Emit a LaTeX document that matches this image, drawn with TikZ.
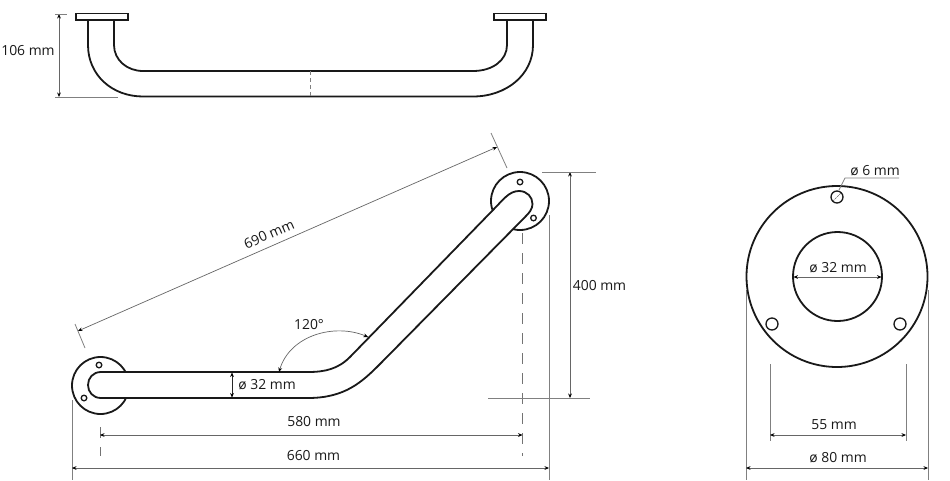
\documentclass[tikz,border=0pt]{standalone}
\usepackage{fontspec}
\setmainfont{Open Sans}
\usetikzlibrary{arrows.meta}
\tikzset{
  outline/.style={line width=1.8pt,draw=black!90,line cap=butt},
  partfill/.style={outline,fill=white},
  hole/.style={line width=1.3pt,draw=black!90,fill=white},
  dim/.style={line width=0.7pt,draw=black!60,{Stealth[length=4.5pt,width=3.8pt,black]}-{Stealth[length=4.5pt,width=3.8pt,black]}},
  ext/.style={line width=0.8pt,draw=black!50},
  axisline/.style={line width=0.8pt,draw=black!55,dash pattern=on 11pt off 9pt},
  lab/.style={font=\fontsize{13.9}{16}\selectfont,text=black!90,inner sep=0pt}
}
\begin{document}
\begin{tikzpicture}[x=1pt,y=-1pt]
\useasboundingbox[fill=white] (0,0) rectangle (950,480);
% top view
\draw[partfill] (88,20) -- (88,45) .. controls (88,75) and (112,96.5) .. (143,96.5) -- (473,96.5) .. controls (506,96.5) and (533,75) .. (533,45) -- (533,20) -- (507,20) -- (507,45) .. controls (507,60) and (493,71) .. (473,71) -- (143,71) .. controls (127,71) and (114,60) .. (114,45) -- (114,20);
\draw[partfill,line width=1.4pt] (76,13.5) rectangle (128,20);
\draw[partfill,line width=1.4pt] (494,13.5) rectangle (546,20);
\draw[ext,dash pattern=on 4pt off 3pt] (310,71) -- (310,96);
\coordinate (tt) at (59,14); \coordinate (tb) at (59,97);
\draw[dim] (tt) -- (tb);
\draw[ext] (55,14) -- (67,14);
\draw[ext] (55,97) -- (118,97);
\node[lab] (l106) at (28,51) {106 mm};
% main view extension lines (behind)
\draw[ext] (72,400) -- (72,480);
\draw[ext] (549,215) -- (549,480);
\draw[axisline] (522.5,233) -- (522.5,456);
\draw[axisline] (100,427) -- (100,456);
% flanges
\draw[partfill] (100.5,385.5) circle[radius=28.5];
\draw[partfill] (520,201) circle[radius=29];
\draw[hole] (99,365) circle[radius=2.8];
\draw[hole] (84,398) circle[radius=2.8];
\draw[hole] (520,182) circle[radius=2.8];
\draw[hole] (533.5,218) circle[radius=2.8];
% bar
\draw[partfill] (101,372) -- (308,372) .. controls (325,372) and (338,369) .. (350,357) -- (493,210) .. controls (503,200) and (509,191) .. (519,191) .. controls (527,191) and (532.5,197) .. (532.5,204) .. controls (532.5,209) and (529,213) .. (526,216) -- (380,364) .. controls (362,382) and (345,398) .. (308,398) -- (101,398) .. controls (93,398) and (88,392) .. (88,385) .. controls (88,378) and (93,372) .. (101,372) -- cycle;
% main dims
\draw[dim] (78,331) -- (497,147);
\draw[ext] (75,324) -- (85,348);
\draw[ext] (491,133) -- (507,168);
\node[lab,rotate=23.7] (l690) at (269,234) {690 mm};
\draw[dim] (570,172) -- (570,398);
\draw[ext] (542,172) -- (596,172);
\draw[ext] (488,398) -- (590,398);
\node[lab] (l400) at (599.5,286) {400 mm};
\draw[dim] (100,435) -- (522.5,435);
\node[lab] (l580) at (314,422) {580 mm};
\draw[dim] (72,468) -- (549,468);
\node[lab] (l660) at (313.5,456) {660 mm};
\draw[dim] (279,372) .. controls (290,335) and (335,323) .. (368,337);
\node[lab] (l120) at (309,325) {120°};
\draw[dim,draw=black!85] (232,372.5) -- (232,397.5);
\node[lab] (l32a) at (267,385) {ø 32 mm};
% right view
\draw[ext] (746,290) -- (746,480);
\draw[ext] (928,290) -- (928,480);
\draw[partfill] (837,276.5) circle[radius=90.5];
\draw[partfill] (837.5,276.5) circle[radius=44.5];
\draw[hole] (837,197) circle[radius=6];
\draw[hole] (772,324) circle[radius=6];
\draw[hole] (900,324) circle[radius=6];
\draw[ext] (899,178) -- (845,178) -- (839,190);
\draw[line width=0.6pt,draw=black!60,dash pattern=on 2pt off 1pt] (833,201) -- (841,193);
\node[lab] (l6) at (875,171) {ø 6 mm};
\draw[dim] (793.5,277) -- (881.5,277);
\node[lab] (l32b) at (838,268) {ø 32 mm};
\draw[ext] (770,364) -- (770,441);
\draw[ext] (906,364) -- (906,441);
\draw[dim] (770,435) -- (906,435);
\node[lab] (l55) at (834,425) {55 mm};
\draw[dim] (746,468) -- (928,468);
\node[lab] (l80) at (838,458) {ø 80 mm};
\end{tikzpicture}
\end{document}
